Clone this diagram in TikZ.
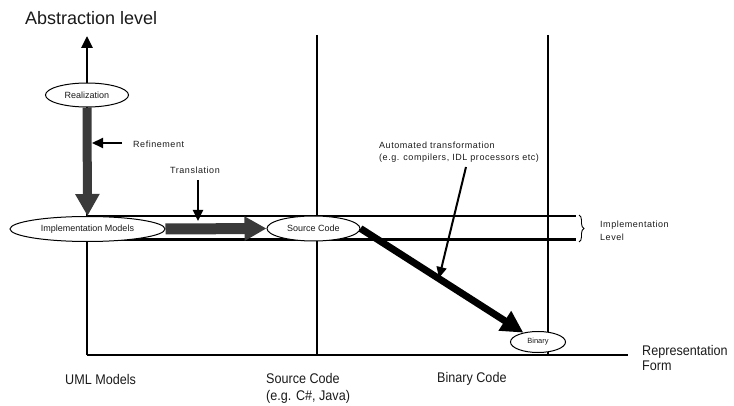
\documentclass[tikz,border=0pt]{standalone}
\usepackage{fontspec}
\setmainfont{Liberation Sans}
\newfontfamily\spaced[LetterSpace=6]{Liberation Sans}
\newfontfamily\narrowf[FakeStretch=0.9]{Liberation Sans}
\usetikzlibrary{arrows.meta,shapes.geometric,decorations.pathreplacing,backgrounds}
\definecolor{arrgray}{HTML}{3A3A3A}
\definecolor{txt}{HTML}{1A1A1A}
\begin{document}
\begin{tikzpicture}[x=1pt,y=-1pt,
  axisline/.style={line width=2.8pt},
  bandline/.style={line width=2.6pt},
  cloudnode/.style={ellipse,draw,line width=1pt,fill=white,inner sep=0pt,text=txt,font=\fontsize{9}{10}\selectfont},
  biglabel/.style={font=\narrowf\fontsize{14}{16}\selectfont,text=txt,anchor=west,inner sep=0pt,align=left},
  smalllabel/.style={font=\spaced\fontsize{9}{12}\selectfont,text=txt,anchor=west,inner sep=0pt,align=left},
  thinarrow/.style={line width=2pt,-{Triangle[width=10pt,length=11pt]}},
  grayarrow/.style={draw=arrgray,-{Triangle[width=23pt,length=22pt]}},
]
\useasboundingbox (0,0) rectangle (734,406);
% nodes
\node[cloudnode,minimum width=83pt,minimum height=24pt] (real) at (87,95) {Realization};
\node[cloudnode,minimum width=155pt,minimum height=25pt] (impl) at (87.5,229) {Implementation Models};
\node[cloudnode,minimum width=93pt,minimum height=25pt] (src) at (313.5,228.5) {Source Code};
\node[cloudnode,minimum width=55pt,minimum height=21pt,font=\fontsize{7.5}{9}\selectfont] (bin) at (538,342) {Binary};
% coordinates
\coordinate (O) at (87,355);
\coordinate (ytop) at (87,36);
\coordinate (xend) at (628,355);
\coordinate (s1top) at (317,35);
\coordinate (s1bot) at (317,355);
\coordinate (b1top) at (548,35);
\coordinate (b1bot) at (548,355);
\coordinate (bandTL) at (87,216);
\coordinate (bandTR) at (576,216);
\coordinate (bandBL) at (87,239.5);
\coordinate (bandBR) at (576,239.5);
\coordinate (braceT) at (579,215);
\coordinate (braceB) at (579,242);
\coordinate (refA) at (122,143);
\coordinate (refB) at (92,143);
\coordinate (trA) at (198,180);
\coordinate (trB) at (198,221);
\coordinate (autA) at (466,167);
\coordinate (autB) at (439,278);
\begin{scope}[on background layer]
  \draw[axisline,-{Triangle[width=11pt,length=12pt]}] (O) -- (ytop);
  \draw[line width=1.6pt] (O) -- (xend);
  \draw[axisline] (s1top) -- (s1bot);
  \draw[axisline] (b1top) -- (b1bot);
  \draw[bandline] (bandTL) -- (bandTR);
  \draw[bandline] (bandBL) -- (bandBR);
  \draw[grayarrow,line width=9pt] (real.south) -- (impl.north);
  \draw[grayarrow,line width=11pt] (impl.east) -- (src.west);
  \draw[line width=7pt,-{Triangle[width=22pt,length=22pt]}] (src.east) -- (bin);
\end{scope}
\draw[line width=0.9pt,decorate,decoration={brace,amplitude=5pt}] (braceT) -- (braceB);
\draw[thinarrow] (refA) -- (refB);
\draw[thinarrow] (trA) -- (trB);
\draw[thinarrow] (autA) -- (autB);
% labels
\node[anchor=west,inner sep=0pt,text=txt,font=\fontsize{18}{20}\selectfont] (abs) at (25,18) {Abstraction level};
\node[smalllabel] (reflab) at (133,144) {Refinement};
\node[smalllabel] (trlab) at (170,170) {Translation};
\node[smalllabel] (autlab) at (379,152) {Automated transformation\\(e.g. compilers, IDL processors etc)};
\node[smalllabel,font=\spaced\fontsize{9}{13}\selectfont] (implev) at (600,230.5) {Implementation\\Level};
\node[biglabel,font=\narrowf\fontsize{14}{15}\selectfont] (repform) at (642,357.5) {Representation\\Form};
\node[biglabel] (uml) at (65,379) {UML Models};
\node[biglabel,font=\narrowf\fontsize{14}{17}\selectfont] (srclab) at (266,388) {Source Code\\(e.g. C\#, Java)};
\node[biglabel] (binlab) at (437,379) {Binary Code};
\end{tikzpicture}
\end{document}
